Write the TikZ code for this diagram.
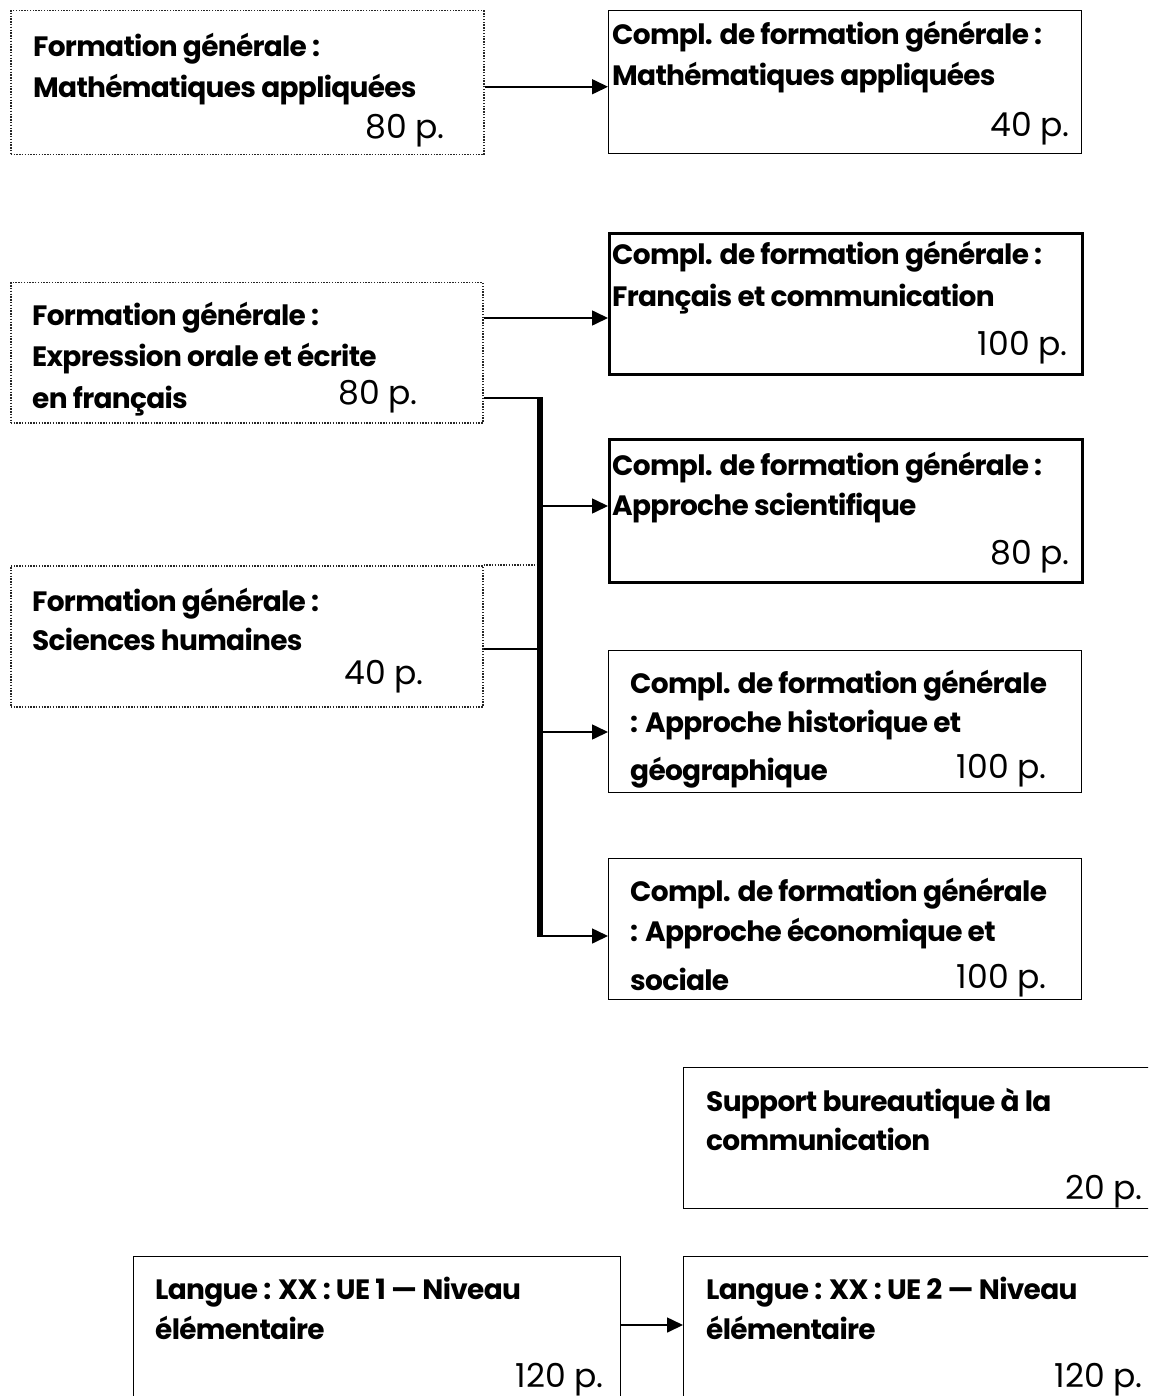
\documentclass[tikz,border=0pt]{standalone}
\usepackage{fontspec}
\setmainfont{Poppins}[BoldFont={Poppins Bold},BoldFeatures={LetterSpace=-2.5}]
\usetikzlibrary{arrows.meta}
\newcommand\figfs{\fontsize{28}{33}\selectfont}
\newcommand\numfs{\fontsize{33}{39}\selectfont}
\tikzset{
 box/.style={draw, line width=1.4pt, rectangle, inner sep=0pt, anchor=north west},
 thickbox/.style={box, line width=2.8pt},
 dotbox/.style={box, draw=black!85, line width=1.5pt, dash pattern=on 1.4pt off 1.4pt},
 dotline/.style={draw=black!85, line width=1.5pt, dash pattern=on 1.4pt off 1.4pt},
 lbl/.style={anchor=base west, inner sep=0pt, font=\bfseries\figfs},
 num/.style={anchor=base east, inner sep=0pt, font=\numfs},
 arr/.style={-{Triangle[length=16pt,width=15pt]}, line width=1.6pt},
 link/.style={line width=1.6pt},
 bus/.style={line width=5.5pt},
}
\begin{document}
\begin{tikzpicture}[x=1pt,y=-1pt]
\useasboundingbox[fill=white] (0,0) rectangle (1148,1396);
\clip (0,0) rectangle (1148,1396);
% boxes
\node[dotbox, minimum width=473pt, minimum height=144pt] (A) at (10,10) {};
\node[box, minimum width=473pt, minimum height=143pt] (B) at (608,10) {};
\node[dotbox, minimum width=472pt, minimum height=140pt] (C) at (10,282) {};
\node[thickbox, minimum width=473pt, minimum height=141pt] (D) at (608,232) {};
\node[thickbox, minimum width=473pt, minimum height=143pt] (E) at (608,438) {};
\node[dotbox, minimum width=472pt, minimum height=141pt] (F) at (10,565) {};
\node[box, minimum width=473pt, minimum height=142pt] (G) at (608,650) {};
\node[box, minimum width=473pt, minimum height=141pt] (H) at (608,858) {};
\node[box, minimum width=500pt, minimum height=141pt] (I) at (683,1067) {};
\node[box, minimum width=487pt, minimum height=160pt] (J) at (133,1256) {};
\node[box, minimum width=500pt, minimum height=160pt] (K) at (683,1256) {};
% texts
\node[lbl] (a1) at (33,57) {Formation générale :};
\node[lbl] (a2) at (33,98) {Mathématiques appliquées};
\node[num] (a3) at (445,139) {80 p.};
\node[lbl] (b1) at (612,45) {Compl. de formation générale :};
\node[lbl] (b2) at (612,86) {Mathématiques appliquées};
\node[num] (b3) at (1070,137) {40 p.};
\node[lbl] (c1) at (32,326) {Formation générale :};
\node[lbl] (c2) at (32,366) {Expression orale et écrite};
\node[lbl] (c3) at (32,408) {en français};
\node[num] (c4) at (418,404) {80 p.};
\node[lbl] (d1) at (612,265) {Compl. de formation générale :};
\node[lbl] (d2) at (612,306) {Français et communication};
\node[num] (d3) at (1068,355) {100 p.};
\node[lbl] (e1) at (612,475) {Compl. de formation générale :};
\node[lbl] (e2) at (612,515) {Approche scientifique};
\node[num] (e3) at (1070,564) {80 p.};
\node[lbl] (f1) at (32,611) {Formation générale :};
\node[lbl] (f2) at (32,650) {Sciences humaines};
\node[num] (f3) at (424,684) {40 p.};
\node[lbl] (g1) at (630,693) {Compl. de formation générale};
\node[lbl] (g2) at (630,732) {: Approche historique et};
\node[lbl] (g3) at (630,780) {géographique};
\node[num] (g4) at (1047,778) {100 p.};
\node[lbl] (h1) at (630,901) {Compl. de formation générale};
\node[lbl] (h2) at (630,941) {: Approche économique et};
\node[lbl] (h3) at (630,990) {sociale};
\node[num] (h4) at (1047,988) {100 p.};
\node[lbl] (i1) at (706,1111) {Support bureautique à la};
\node[lbl] (i2) at (706,1150) {communication};
\node[num] (i3) at (1143,1199) {20 p.};
\node[lbl] (j1) at (155,1299) {Langue : XX : UE 1 — Niveau};
\node[lbl] (j2) at (155,1339) {élémentaire};
\node[num] (j3) at (604,1387) {120 p.};
\node[lbl] (k1) at (706,1299) {Langue : XX : UE 2 — Niveau};
\node[lbl] (k2) at (706,1339) {élémentaire};
\node[num] (k3) at (1143,1387) {120 p.};
% connectors
\draw[arr] ([yshift=-4pt]A.east) -- ([yshift=-4pt]A.east -| B.west);
\draw[arr] (C.east |- 0,318) -- (D.west |- 0,318);
\coordinate (bt) at (540,398);
\coordinate (bb) at (540,936);
\coordinate (fb) at (540,649);
\coordinate (ft) at (540,565);
\draw[link] (C.east |- bt) -- ([xshift=2.75pt]bt);
\draw[link] (F.east |- fb) -- (fb);
\draw[dotline] (F.north east) -- (ft);
\draw[bus] (bt) -- (bb);
\draw[arr] (540,506) -- (E.west |- 0,506);
\draw[arr] (540,732) -- (G.west |- 0,732);
\draw[arr] ([xshift=-2.75pt]bb) -- (H.west |- bb);
\draw[arr] (J.east |- 0,1325) -- (K.west |- 0,1325);
\end{tikzpicture}
\end{document}
